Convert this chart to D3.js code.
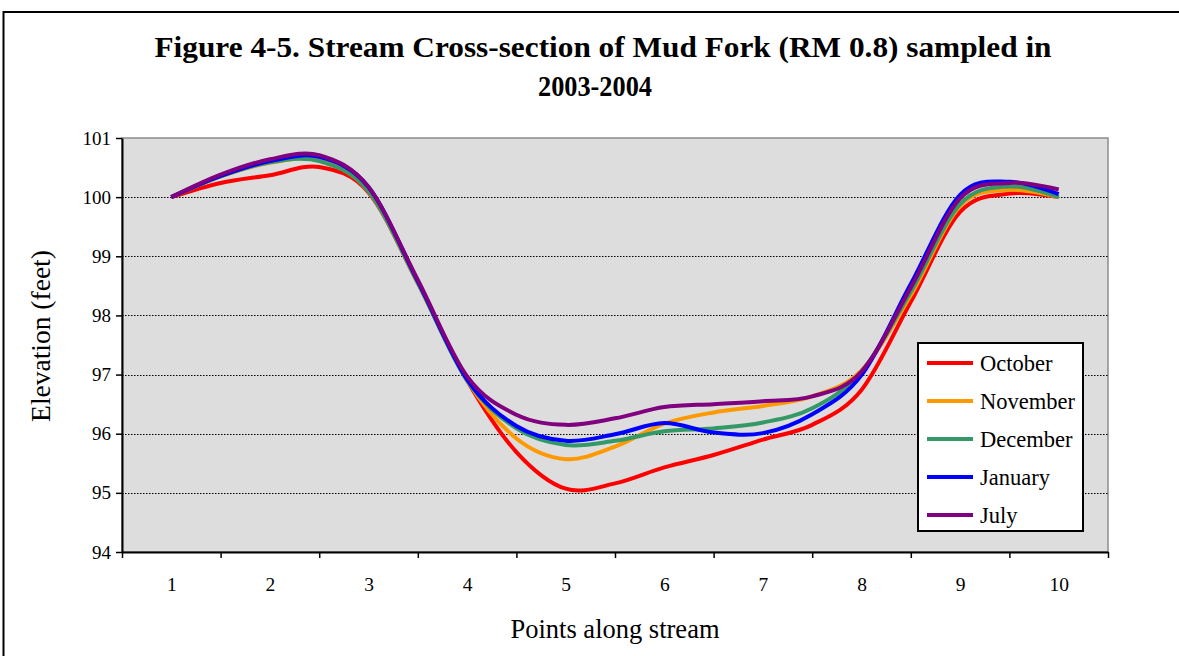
<!DOCTYPE html>
<html>
<head>
<meta charset="utf-8">
<script src="https://cdn.jsdelivr.net/npm/d3@7"></script>
<style>
  html, body { margin: 0; padding: 0; background: #fff; overflow: hidden; }
  svg { display: block; }
  text { font-family: "Liberation Serif", "Times New Roman", Times, serif; fill: #000; }
</style>
</head>
<body>
<svg id="chart" width="1179" height="656"></svg>
<script>
// Survey positions along the cross-section (half-point spacing)
const positions = [1, 1.5, 2, 2.5, 3, 3.5, 4, 4.5, 5, 5.5, 6, 6.5, 7, 7.5, 8, 8.5, 9, 9.5, 10];

// Elevations (feet) for each sampling month
const october  = [100.00, 100.24, 100.37, 100.51, 100.08, 98.55, 96.90, 95.69, 95.07, 95.16, 95.43, 95.64, 95.90, 96.15, 96.74, 98.23, 99.75, 100.06, 100.00];
const november = [100.00, 100.35, 100.58, 100.62, 100.10, 98.55, 96.90, 95.92, 95.57, 95.78, 96.17, 96.36, 96.47, 96.63, 97.07, 98.34, 99.85, 100.12, 100.00];
const december = [100.00, 100.35, 100.59, 100.61, 100.10, 98.55, 96.90, 96.09, 95.81, 95.88, 96.04, 96.09, 96.19, 96.43, 97.05, 98.40, 99.88, 100.18, 100.00];
const january  = [100.00, 100.36, 100.61, 100.68, 100.17, 98.58, 96.92, 96.13, 95.88, 95.99, 96.18, 96.02, 96.01, 96.33, 96.99, 98.53, 100.04, 100.26, 100.05];
const july     = [100.00, 100.38, 100.64, 100.71, 100.17, 98.60, 96.97, 96.32, 96.15, 96.26, 96.45, 96.50, 96.55, 96.63, 97.05, 98.47, 99.98, 100.24, 100.13];

const seriesNames = ["October", "November", "December", "January", "July"];
const seriesColors = ["#FF0000", "#FF9900", "#339966", "#0000FF", "#800080"];
const seriesValues = [october, november, december, january, july];

const xCategories = [1, 2, 3, 4, 5, 6, 7, 8, 9, 10];
const yTicks = [94, 95, 96, 97, 98, 99, 100, 101];

const titleLines = ["Figure 4-5. Stream Cross-section of Mud Fork (RM 0.8) sampled in", "2003-2004"];
const xTitle = "Points along stream";
const yTitle = "Elevation (feet)";

const svg = d3.select("#chart");

// Outer frame
svg.append("rect")
  .attr("x", 3.5).attr("y", 12)
  .attr("width", 1300).attr("height", 800)
  .attr("fill", "#fff").attr("stroke", "#000").attr("stroke-width", 2);

// Title
const titleSpecs = [
  { cx: 603, y: 57, len: 897 },
  { cx: 595, y: 96, len: 114 }
];
titleLines.forEach((t, i) => {
  svg.append("text")
    .attr("x", titleSpecs[i].cx - titleSpecs[i].len / 2)
    .attr("y", titleSpecs[i].y)
    .attr("font-size", 29)
    .attr("font-weight", "bold")
    .attr("textLength", titleSpecs[i].len)
    .attr("lengthAdjust", "spacingAndGlyphs")
    .text(t);
});

const plot = { left: 122, right: 1108, top: 138, bottom: 552 };

const x = d3.scaleLinear().domain([0.5, 10.5]).range([plot.left, plot.right]);
const y = d3.scaleLinear().domain([94, 101]).range([plot.bottom, plot.top]);

// Plot area background and border
svg.append("rect")
  .attr("x", plot.left).attr("y", plot.top)
  .attr("width", plot.right - plot.left).attr("height", plot.bottom - plot.top)
  .attr("fill", "#DDDDDD").attr("stroke", "#8C8C8C").attr("stroke-width", 1.5);

// Dotted horizontal gridlines
svg.append("g")
  .selectAll("line")
  .data(yTicks.filter(v => v > 94 && v < 101))
  .join("line")
  .attr("x1", plot.left).attr("x2", plot.right)
  .attr("y1", d => Math.round(y(d)) + 0.5).attr("y2", d => Math.round(y(d)) + 0.5)
  .attr("stroke", "#000").attr("stroke-width", 1)
  .attr("stroke-dasharray", "1.5,1.5");

// Series lines
const line = d3.line()
  .x((d, i) => x(positions[i]))
  .y(d => y(d))
  .curve(d3.curveCatmullRom.alpha(0));

svg.append("g")
  .selectAll("path")
  .data(seriesValues)
  .join("path")
  .attr("d", d => line(d))
  .attr("fill", "none")
  .attr("stroke", (d, i) => seriesColors[i])
  .attr("stroke-width", 4)
  .attr("stroke-linejoin", "round")
  .attr("stroke-linecap", "butt");

// Y axis
const yAxis = svg.append("g")
  .attr("transform", `translate(${plot.left},0)`)
  .call(d3.axisLeft(y).tickValues(yTicks).tickSize(6).tickSizeOuter(0).tickPadding(5).tickFormat(d3.format("d")));
yAxis.select(".domain").attr("stroke", "#000").attr("stroke-width", 2);
yAxis.selectAll(".tick line").attr("stroke", "#000").attr("stroke-width", 1.5);
yAxis.selectAll(".tick text")
  .attr("font-size", 19)
  .attr("font-family", "Liberation Serif, Times New Roman, serif");

// X axis: tick marks at category boundaries
const boundaries = d3.range(0, 11).map(i => 0.5 + i);
const xAxisTicks = svg.append("g")
  .attr("transform", `translate(0,${plot.bottom})`)
  .call(d3.axisBottom(x).tickValues(boundaries).tickSize(6).tickSizeOuter(0).tickFormat(""));
xAxisTicks.select(".domain").attr("stroke", "#000").attr("stroke-width", 2);
xAxisTicks.selectAll(".tick line").attr("stroke", "#000").attr("stroke-width", 1.5);

// X axis: category labels centred in each band
const xAxisLabels = svg.append("g")
  .attr("transform", `translate(0,${plot.bottom})`)
  .call(d3.axisBottom(x).tickValues(xCategories).tickSize(0).tickPadding(25).tickFormat(d3.format("d")));
xAxisLabels.select(".domain").remove();
xAxisLabels.selectAll(".tick text")
  .attr("font-size", 19.5)
  .attr("font-family", "Liberation Serif, Times New Roman, serif");

// Axis titles
svg.append("text")
  .attr("x", (plot.left + plot.right) / 2)
  .attr("y", 638)
  .attr("text-anchor", "middle")
  .attr("font-size", 26.5)
  .text(xTitle);

svg.append("text")
  .attr("transform", `translate(50,336) rotate(-90)`)
  .attr("text-anchor", "middle")
  .attr("font-size", 27.5)
  .text(yTitle);

// Legend
const legend = svg.append("g");
legend.append("rect")
  .attr("x", 918).attr("y", 343)
  .attr("width", 165).attr("height", 188)
  .attr("fill", "#fff").attr("stroke", "#000").attr("stroke-width", 2);

const items = legend.selectAll("g.item")
  .data(seriesNames)
  .join("g")
  .attr("class", "item")
  .attr("transform", (d, i) => `translate(0,${363 + i * 38})`);
items.append("line")
  .attr("x1", 927).attr("x2", 973)
  .attr("y1", 0).attr("y2", 0)
  .attr("stroke", (d, i) => seriesColors[i])
  .attr("stroke-width", 4);
items.append("text")
  .attr("x", 980).attr("y", 7.5)
  .attr("font-size", 22.5)
  .text(d => d);
</script>
</body>
</html>
